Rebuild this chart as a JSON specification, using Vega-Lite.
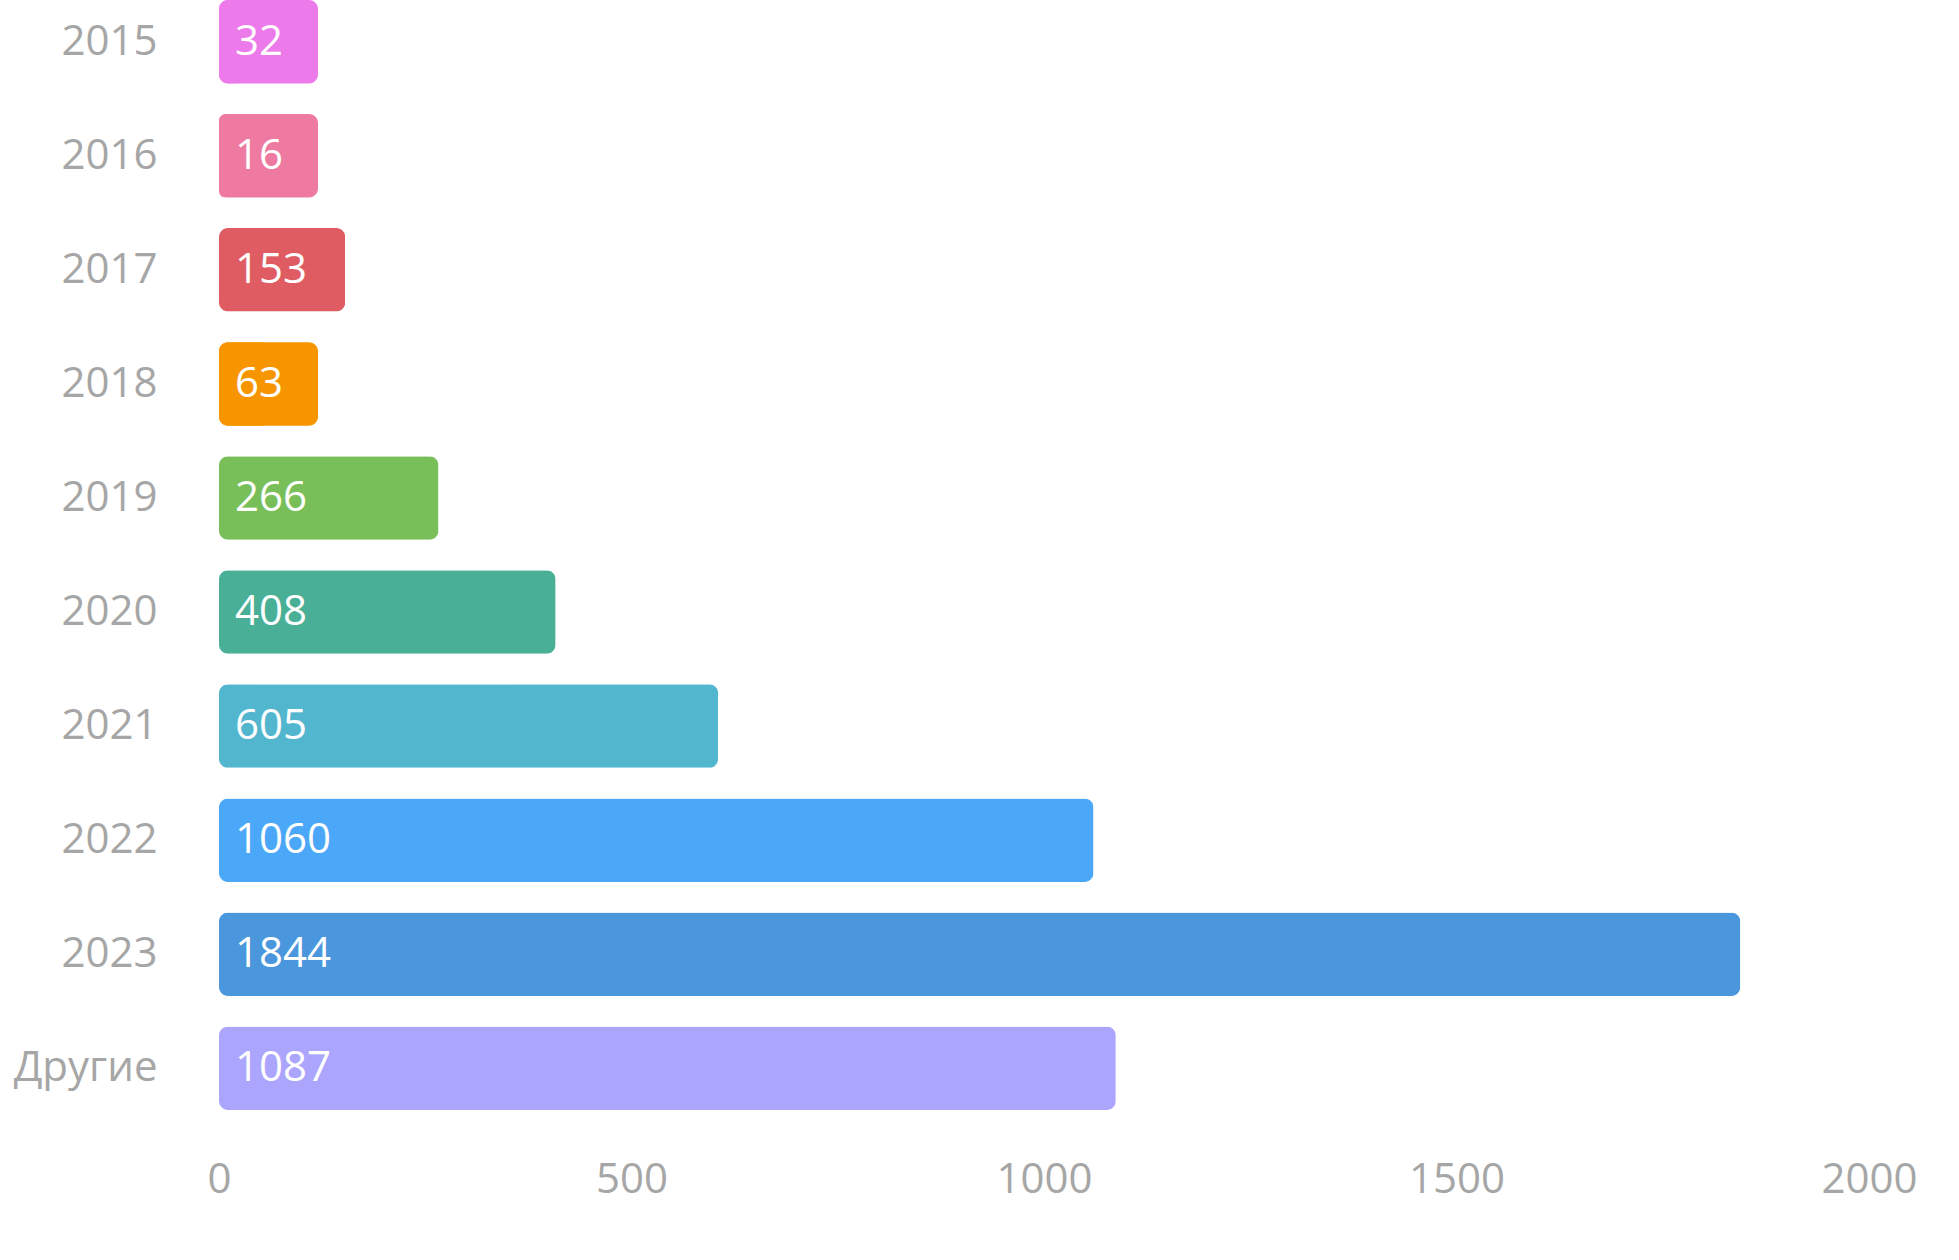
{
  "$schema": "https://vega.github.io/schema/vega-lite/v6.json",
  "autosize": {"type": "none"},
  "padding": {"left": 219, "top": 0, "right": 90, "bottom": 150},
  "width": 1650,
  "height": 1110,
  "background": "white",
  "config": {"view": {"stroke": null}},
  "data": {
    "values": [
      {"cat": "2015", "v": 32},
      {"cat": "2016", "v": 16},
      {"cat": "2017", "v": 153},
      {"cat": "2018", "v": 63},
      {"cat": "2019", "v": 266},
      {"cat": "2020", "v": 408},
      {"cat": "2021", "v": 605},
      {"cat": "2022", "v": 1060},
      {"cat": "2023", "v": 1844},
      {"cat": "Другие", "v": 1087}
    ]
  },
  "encoding": {
    "y": {
      "field": "cat",
      "type": "nominal",
      "sort": null,
      "scale": {"paddingInner": 0.268, "paddingOuter": 0},
      "axis": {
        "title": null,
        "domain": false,
        "ticks": false,
        "labelPadding": 62,
        "labelFont": "Open Sans",
        "labelFontSize": 42,
        "labelColor": "#a6a6a6"
      }
    },
    "color": {
      "field": "cat",
      "type": "nominal",
      "sort": null,
      "legend": null,
      "scale": {
        "domain": ["2015", "2016", "2017", "2018", "2019", "2020", "2021", "2022", "2023", "Другие"],
        "range": ["#ed7aea", "#ee7aa1", "#de5c62", "#f79500", "#78bf5a", "#4aaf97", "#52b6cf", "#4ba8f9", "#4a97dd", "#aba5fd"]
      }
    }
  },
  "layer": [
    {
      "mark": {"type": "bar", "cornerRadius": 9},
      "encoding": {
        "x": {
          "field": "v",
          "type": "quantitative",
          "scale": {"domain": [0, 2000], "nice": false},
          "axis": {
            "title": null,
            "grid": false,
            "domain": false,
            "ticks": false,
            "values": [0, 500, 1000, 1500, 2000],
            "format": "d",
            "labelFlush": false,
            "labelBaseline": "middle",
            "labelPadding": 69,
            "labelFont": "Open Sans",
            "labelFontSize": 42,
            "labelColor": "#a6a6a6"
          }
        }
      }
    },
    {
      "transform": [{"filter": {"field": "v", "lt": 120}}],
      "mark": {"type": "bar", "cornerRadius": 9},
      "encoding": {
        "x": {"datum": 0, "type": "quantitative"},
        "x2": {"datum": 120}
      }
    },
    {
      "mark": {"type": "text", "align": "left", "baseline": "middle", "dx": 16, "font": "Open Sans", "fontSize": 42, "color": "white"},
      "encoding": {
        "x": {"datum": 0, "type": "quantitative"},
        "text": {"field": "v", "type": "quantitative"},
        "color": {"value": "white"}
      }
    }
  ]
}
